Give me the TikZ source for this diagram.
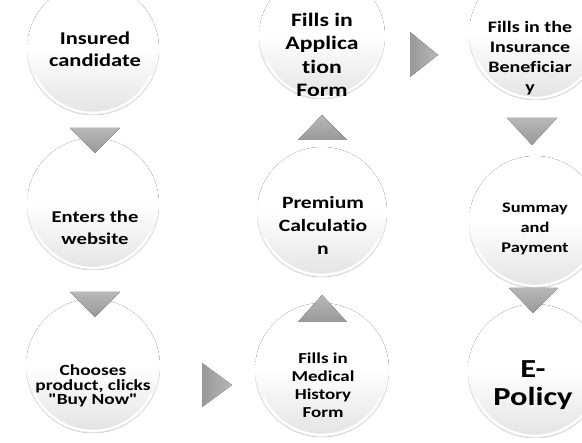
\documentclass[tikz,border=0pt]{standalone}
\usepackage{fontspec}
\newfontfamily\calfont{Carlito}[FakeStretch=1.25,RawFeature={-liga}]
\newcommand\bubdraw[3]{%
  \fill[bubble] (#1,#2) circle (#3);
  \draw[black!9,line width=0.5pt] (#1,#2) ++(5:#3) arc[start angle=5,end angle=175,radius=#3];
  \draw[white,line width=2.2pt] (#1,#2) ++(25:#3-2.2) arc[start angle=25,end angle=155,radius=#3-2.2];
}
\begin{document}
\begin{tikzpicture}[x=1pt,y=-1pt,
  bubble/.style={top color=white,bottom color=black!11,middle color=white},
  arrowfill/.style={left color=black!40,right color=black!28},
  arrowfillv/.style={top color=black!28,bottom color=black!40},
  lbl/.style={align=center,inner sep=0pt,text=black}]
\useasboundingbox (0,0) rectangle (582,443);
\begin{scope}
\clip (0,0) rectangle (582,443);
% bubbles
\bubdraw{93}{49}{66}
\bubdraw{322}{36}{63}
\bubdraw{535}{34}{66}
\bubdraw{93}{204}{66}
\bubdraw{322}{212}{65}
\bubdraw{535}{222}{66}
\bubdraw{93}{366}{67}
\bubdraw{322}{370}{67}
\bubdraw{535}{371}{67}
\end{scope}
% labels
\node[lbl,font=\calfont\fontsize{18}{22}\selectfont\bfseries] (n1) at (95,49) {Insured\\candidate};
\node[lbl,font=\calfont\fontsize{16.5}{21.5}\selectfont\bfseries] (n2) at (95,228) {Enters the\\website};
\node[lbl,font=\calfont\fontsize{15.5}{14.5}\selectfont\bfseries] (n3) at (93,386) {Chooses\\product, clicks\\"Buy Now"};
\node[lbl,font=\calfont\fontsize{15.2}{18}\selectfont\bfseries] (n4) at (323,385) {Fills in\\Medical\\History\\Form};
\node[lbl,font=\calfont\fontsize{17.3}{23}\selectfont\bfseries] (n5) at (323,225) {Premium\\Calculatio\\n};
\node[lbl,font=\calfont\fontsize{19}{23.5}\selectfont\bfseries] (n6) at (322,55) {Fills in\\Applica\\tion\\Form};
\node[lbl,font=\calfont\fontsize{16}{20}\selectfont\bfseries] (n7) at (530,58) {Fills in the\\Insurance\\Beneficiar\\y};
\node[lbl,font=\calfont\fontsize{14.7}{20}\selectfont\bfseries] (n8) at (535,229) {Summay\\and\\Payment};
\node[lbl,font=\calfont\fontsize{26}{28}\selectfont\bfseries] (n9) at (533,385) {E-\\Policy};
% arrows
\fill[arrowfillv] (70,128) -- (120,128) -- (95,153) -- cycle;
\fill[arrowfillv] (70,292) -- (120,292) -- (95,317) -- cycle;
\fill[arrowfill] (202,363) -- (232,385) -- (202,407) -- cycle;
\fill[arrowfillv] (298,322) -- (347,322) -- (322,295) -- cycle;
\fill[arrowfillv] (298,140) -- (347,140) -- (322,115) -- cycle;
\fill[arrowfill] (410,32) -- (438,55) -- (410,77) -- cycle;
\fill[arrowfillv] (507,118) -- (557,118) -- (532,145) -- cycle;
\fill[arrowfillv] (509,288) -- (558,288) -- (533,313) -- cycle;
\end{tikzpicture}
\end{document}
